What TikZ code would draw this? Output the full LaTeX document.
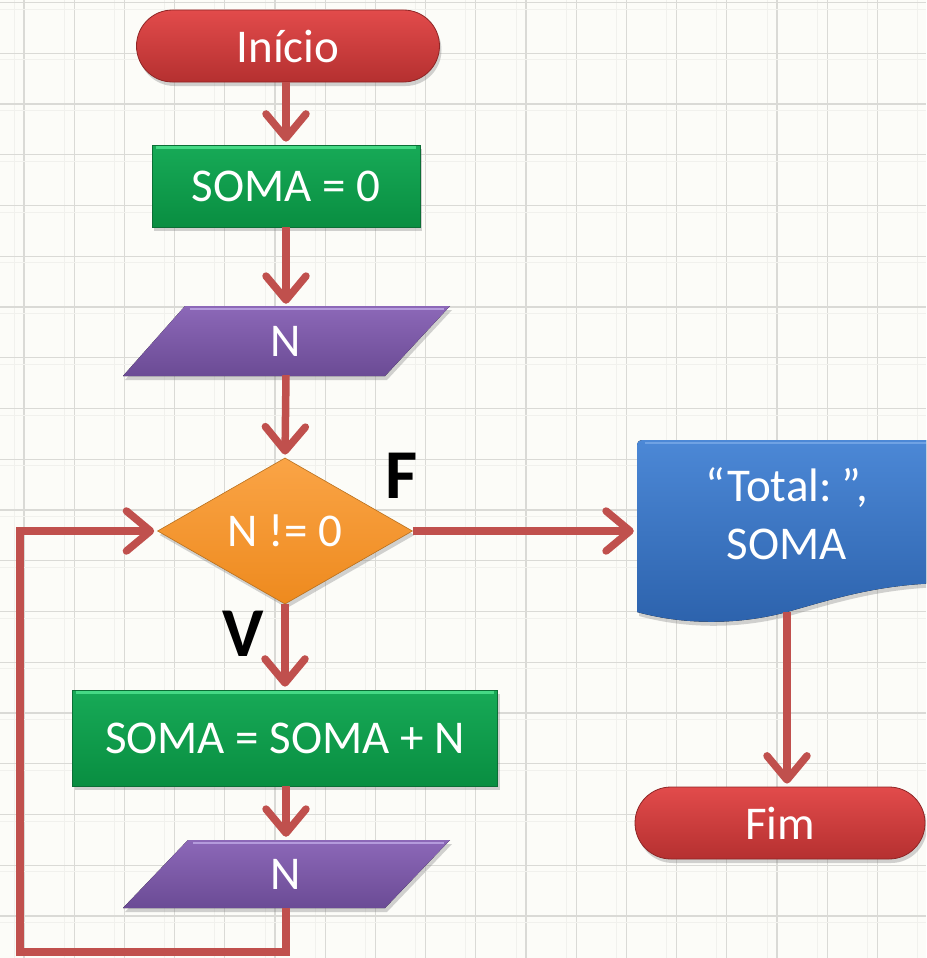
\documentclass[tikz,border=0pt]{standalone}
\usepackage{fontspec}
\setmainfont{Carlito}
\usetikzlibrary{arrows.meta,shapes.geometric,shadows,calc}
\definecolor{bgc}{HTML}{FCFCF8}
\definecolor{gridc}{HTML}{DADAD6}
\definecolor{gridf}{HTML}{F1F1ED}
\definecolor{arrc}{HTML}{C0504D}
\definecolor{termtop}{HTML}{E24B4B}
\definecolor{termbot}{HTML}{B53030}
\definecolor{termline}{HTML}{8E2626}
\definecolor{greentop}{HTML}{17AA57}
\definecolor{greenbot}{HTML}{098E41}
\definecolor{greenhi}{HTML}{45D985}
\definecolor{greenline}{HTML}{0B6E35}
\definecolor{purptop}{HTML}{8C68B8}
\definecolor{purpbot}{HTML}{6B4B95}
\definecolor{purphi}{HTML}{B49BDC}
\definecolor{orgtop}{HTML}{FAA446}
\definecolor{orgbot}{HTML}{EE8A1E}
\definecolor{orgline}{HTML}{B8701E}
\definecolor{bluetop}{HTML}{4C88D6}
\definecolor{bluebot}{HTML}{2C62AC}
\definecolor{bluehi}{HTML}{6FA2E4}
\tikzset{
  txt/.style={text=white, font=\fontsize{47}{58}\selectfont, inner sep=0pt, align=center},
  shad/.style={drop shadow={shadow xshift=2pt, shadow yshift=-4pt, opacity=0.35}},
  term/.style={txt, rectangle, rounded corners=36pt, minimum height=72pt,
    top color=termtop, bottom color=termbot, draw=termline, line width=0.8pt, shad},
  procbox/.style={txt, rectangle, top color=greentop, bottom color=greenbot,
    draw=greenline, line width=0.6pt, shad},
  iobox/.style={txt, rectangle, draw=none, minimum width=200pt, minimum height=68pt},
  decbox/.style={txt, diamond, minimum width=255pt, minimum height=142pt,
    top color=orgtop, bottom color=orgbot, draw=orgline, line width=0.6pt, shad},
  lbl/.style={font=\fontsize{70}{80}\selectfont\bfseries, text=black, inner sep=0pt},
  arr/.style={draw=arrc, line width=7.5pt, line join=miter,
    -{Straight Barb[length=24pt,width=40pt,round]}, shorten >=3pt},
}
\begin{document}
\begin{tikzpicture}[x=1pt,y=-1pt]
\useasboundingbox (0,0) rectangle (926,958);
\clip (0,0) rectangle (926,958);
\fill[bgc] (0,0) rectangle (926,958);
% grid
\foreach \i in {0,...,18} {
  \draw[gridf, line width=0.8pt] ({14+50.2*\i},0) -- ++(0,958);
  \draw[gridc, line width=1.2pt] ({24+50.2*\i},0) -- ++(0,958);
}
\foreach \j in {0,...,19} {
  \draw[gridf, line width=0.8pt] (0,{9+50.75*\j}) -- ++(926,0);
  \draw[gridc, line width=1.2pt] (0,{2.5+50.75*\j}) -- ++(926,0);
}
% input/output parallelograms
\fill[top color=purptop, bottom color=purpbot, shad] (123,376) -- (385,376) -- (450,306) -- (185,306) -- cycle;
\draw[purphi, line width=2pt] (190,309) -- (444,309);
\node[iobox] (p1) at (286,341) {N};
\fill[top color=purptop, bottom color=purpbot, shad] (123,908) -- (385,908) -- (450,840) -- (188,840) -- cycle;
\draw[purphi, line width=2pt] (193,843) -- (444,843);
\node[iobox] (p2) at (286,874) {N};
% output document
\fill[top color=bluetop, bottom color=bluebot, shad] (637,612) -- (637,446) .. controls (637,442) and (639,440) .. (643,440) -- (950,440) -- (950,583) .. controls (880,583) and (830,600) .. (787,612) .. controls (735,626) and (680,624) .. cycle;
\draw[bluehi, line width=2pt] (645,443) -- (926,443);
\node[txt, minimum width=300pt, minimum height=182pt, draw=none] (doc) at (787,531) {};
\node[txt] (doctext) at (787,514) {“Total:\kern0.2em”,\\SOMA};
\coordinate (docb) at (787,612);
% terminators
\node[term, minimum width=303pt] (ini) at (288,46) {Início};
\node[term, minimum width=290pt] (fim) at (780,823) {Fim};
% process boxes
\node[procbox, minimum width=268pt, minimum height=82pt] (s0) at (286,186) {SOMA = 0};
\draw[greenhi, line width=2.5pt] ([shift={(4,3)}]s0.north west) -- ([shift={(-4,3)}]s0.north east);
\node[procbox, minimum width=425pt, minimum height=96pt] (s1) at (285,738) {SOMA = SOMA + N};
\draw[greenhi, line width=2.5pt] ([shift={(4,3)}]s1.north west) -- ([shift={(-4,3)}]s1.north east);
% decision
\node[decbox] (dec) at (285,531) {N != 0};
% labels
\node[lbl] (lf) at (402,476) {F};
\node[lbl] (lv) at (243,634) {V};
% connectors
\coordinate (lb) at (20,952);
\draw[arr] (ini.south -| s0.north) -- (s0.north);
\draw[arr] (s0.south) -- (p1.north);
\draw[arr] (p1.south) -- (dec.north);
\draw[arr] (dec.east) -- (doc.west);
\draw[arr] (docb) -- (docb |- fim.north);
\draw[arr] (dec.south) -- (s1.north -| dec.south);
\draw[arr] (s1.south -| p2.north) -- (p2.north);
\draw[arr] (p2.south) |- (lb) |- (dec.west);
\end{tikzpicture}
\end{document}
